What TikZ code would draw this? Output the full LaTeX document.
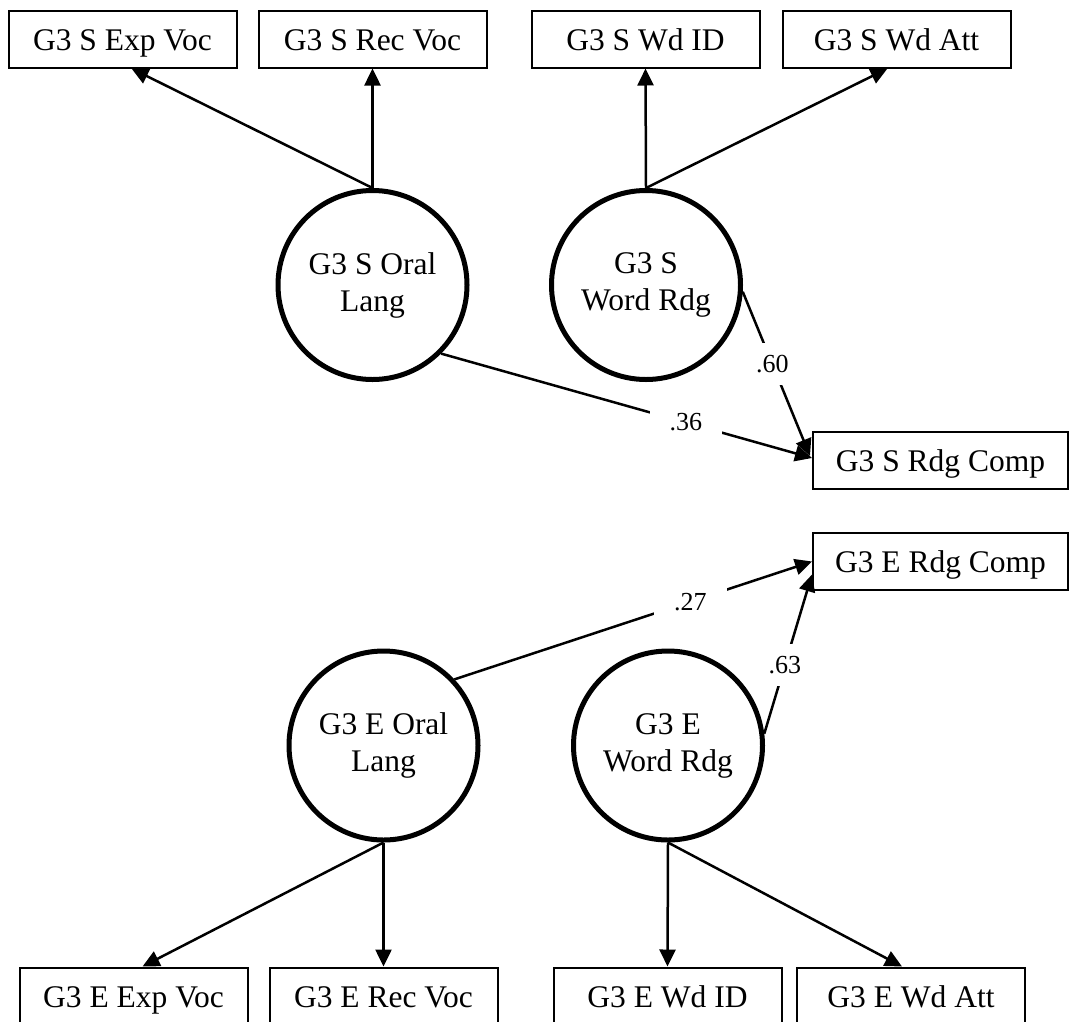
\documentclass[tikz,border=0pt]{standalone}
\usepackage{fontspec}
\setmainfont{Liberation Serif}
\usetikzlibrary{arrows.meta,calc}
\begin{document}
\begin{tikzpicture}[x=1pt,y=-1pt,
  obs/.style={draw, line width=2pt, minimum width=228pt, minimum height=57pt, inner sep=0pt, text height=25pt, text depth=3pt, font=\fontsize{31.5}{36}\selectfont},
  lat/.style={draw, circle, line width=5pt, minimum size=189pt, inner sep=0pt, align=center, font=\fontsize{31.5}{37}\selectfont},
  pth/.style={line width=2.5pt, -{Triangle[length=17pt,width=16pt]}},
  coef/.style={fill=white, inner xsep=20pt, inner ysep=12pt, font=\fontsize{26}{30}\selectfont}]
\useasboundingbox (0,0) rectangle (1070,1021);
% observed indicators (top)
\node[obs] (sev) at (122.5,39) {G3 S Exp Voc};
\node[obs] (srv) at (372.5,39) {G3 S Rec Voc};
\node[obs] (swi) at (645.5,39) {G3 S Wd ID};
\node[obs] (swa) at (896.5,39) {G3 S Wd Att};
% latent (top)
\node[lat] (sol) at (372.5,285) {G3 S Oral\\Lang};
\node[lat] (swr) at (646,285) {G3 S\\Word Rdg};
% outcomes
\node[obs, minimum width=255pt] (src) at (940.5,460) {G3 S Rdg Comp};
\node[obs, minimum width=255pt] (erc) at (940.5,561.5) {G3 E Rdg Comp};
% latent (bottom)
\node[lat] (eol) at (383.5,745.5) {G3 E Oral\\Lang};
\node[lat] (ewr) at (668,745.5) {G3 E\\Word Rdg};
% observed indicators (bottom)
\node[obs] (eev) at (133.5,996) {G3 E Exp Voc};
\node[obs] (erv) at (383.5,996) {G3 E Rec Voc};
\node[obs] (ewi) at (667.5,996) {G3 E Wd ID};
\node[obs] (ewa) at (911,996) {G3 E Wd Att};
% loadings
\draw[pth] (sol.north) -- ($(sev.south)+(9,0)$);
\draw[pth] (sol.north) -- (srv.south);
\draw[pth] (swr.north) -- (swi.south);
\draw[pth] (swr.north) -- ($(swa.south)+(-9,0)$);
\draw[pth] (eol.south) -- ($(eev.north)+(9,0)$);
\draw[pth] (eol.south) -- (erv.north);
\draw[pth] (ewr.south) -- (ewi.north);
\draw[pth] (ewr.south) -- ($(ewa.north)+(-9,0)$);
% structural paths
\draw[pth] (sol.-45) -- node[coef, pos=0.66] {.36} ($(src.west)+(0,-2)$);
\draw[pth] (swr.-4) -- node[coef, pos=0.44] {.60} ($(src.west)+(-2,-4)$);
\draw[pth] (eol.43) -- node[coef, pos=0.66] {.27} (erc.west);
\draw[pth] (ewr.7) -- node[coef, pos=0.43] {.63} ($(erc.west)+(0,13)$);
\end{tikzpicture}
\end{document}
